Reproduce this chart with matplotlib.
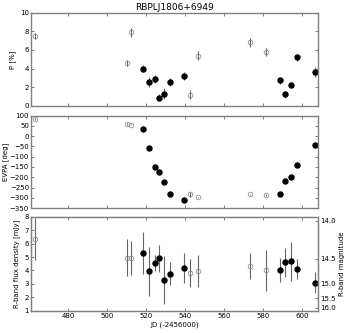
import matplotlib
matplotlib.use("Agg")
import matplotlib.pyplot as plt
import numpy as np

# RBPLJ1806+6949 polarisation monitoring
title = "RBPLJ1806+6949"

# filled = epochs with EVPA rotation, open = other epochs
jd_fill = [518.4, 521.4, 524.3, 526.4, 529.3, 532.3, 539.3, 588.4, 591.3, 594.4, 597.3, 606.3]
p_fill = [4.0, 2.57, 2.9, 0.9, 1.3, 2.57, 3.18, 2.75, 1.25, 2.2, 5.2, 3.64]
p_fill_err = [0.4, 0.5, 0.4, 0.4, 0.6, 0.4, 0.45, 0.4, 0.4, 0.3, 0.4, 0.5]
evpa_fill = [37, -60, -148, -175, -225, -283, -309, -283, -219, -201, -138, -44]
evpa_fill_err = [4, 4, 4, 4, 4, 4, 4, 4, 4, 4, 4, 4]
flux_fill = [5.32, 3.93, 4.55, 4.9, 3.28, 3.75, 4.18, 4.03, 4.6, 4.67, 4.1, 3.08]
flux_fill_err = [1.55, 1.8, 0.6, 1.0, 1.8, 0.86, 1.1, 0.87, 1.07, 1.43, 0.75, 0.78]

jd_open = [463.1, 510.2, 512.2, 542.4, 546.5, 573.4, 581.3]
p_open = [7.5, 4.57, 7.9, 1.2, 5.4, 6.8, 5.8]
p_open_err = [0.3, 0.3, 0.5, 0.5, 0.45, 0.45, 0.4]
evpa_open = [82, 58, 56, -283, -298, -283, -285]
evpa_open_err = [4, 4, 4, 12, 4, 4, 4]
flux_open = [6.36, 4.95, 4.95, 3.83, 3.93, 4.32, 4.0]
flux_open_err = [1.55, 1.36, 1.26, 1.05, 1.2, 0.97, 1.5]

mag_ticks = [14.0, 14.5, 15.0, 15.5, 16.0]
F0 = 3.064e6  # R-band zero point in mJy

plt.rcParams['font.size'] = 5
plt.rcParams['xtick.direction'] = 'in'
plt.rcParams['ytick.direction'] = 'in'

fig = plt.figure(figsize=(3.49, 3.33), dpi=100)
left, width = 0.089, 0.822
ax1 = fig.add_axes([left, 0.682, width, 0.280])
ax2 = fig.add_axes([left, 0.375, width, 0.278])
ax3 = fig.add_axes([left, 0.067, width, 0.282])

ecol = '0.4'


def draw(ax, yo, yoe, yf, yfe):
    ax.errorbar(jd_open, yo, yerr=yoe, fmt='o', ms=3.4, mfc='none', mec='0.5', mew=0.5,
                ecolor=ecol, elinewidth=0.8, capsize=0)
    ax.errorbar(jd_fill, yf, yerr=yfe, fmt='o', ms=3.6, mfc='k', mec='k',
                ecolor=ecol, elinewidth=0.8, capsize=0)


draw(ax1, p_open, p_open_err, p_fill, p_fill_err)
draw(ax2, evpa_open, evpa_open_err, evpa_fill, evpa_fill_err)
draw(ax3, flux_open, flux_open_err, flux_fill, flux_fill_err)

for ax in (ax1, ax2, ax3):
    ax.set_xlim(461, 608)
    ax.set_xticks([480, 500, 520, 540, 560, 580, 600])
    ax.tick_params(top=True, right=True, length=2.5, width=0.5, pad=1.5, color='0.3')
    for s in ax.spines.values():
        s.set_color('0.5')
        s.set_linewidth(1.0)

ax1.set_ylim(0, 10)
ax1.set_yticks([0, 2, 4, 6, 8, 10])
ax1.set_xticklabels([])
ax1.set_ylabel("P [%]", labelpad=3)
ax1.set_title(title, fontsize=6.5, pad=2)

ax2.set_ylim(-350, 100)
ax2.set_yticks(np.arange(-350, 101, 50))
ax2.set_yticklabels([str(v).replace('-', '\u2212') for v in np.arange(-350, 101, 50)])
ax2.set_xticklabels([])
ax2.set_ylabel("EVPA [deg]", labelpad=0.5)

ax3.set_ylim(1, 8)
ax3.set_yticks([1, 2, 3, 4, 5, 6, 7, 8])
ax3.set_ylabel("R-band flux density [mJy]", labelpad=3)
ax3.set_xlabel("JD (-2456000)", labelpad=2)
ax3.tick_params(right=False)

ax3r = ax3.twinx()
ax3r.set_ylim(1, 8)
ax3r.set_yticks([F0 * 10 ** (-0.4 * m) for m in mag_ticks])
ax3r.set_yticklabels(["%.1f" % m for m in mag_ticks])
ax3r.tick_params(direction='in', length=2.5, width=0.5, pad=1.5, color='0.3')
ax3r.set_ylabel("R-band magnitude", labelpad=2)
for s in ax3r.spines.values():
    s.set_color('0.5')

fig.savefig("out.png", dpi=100)
